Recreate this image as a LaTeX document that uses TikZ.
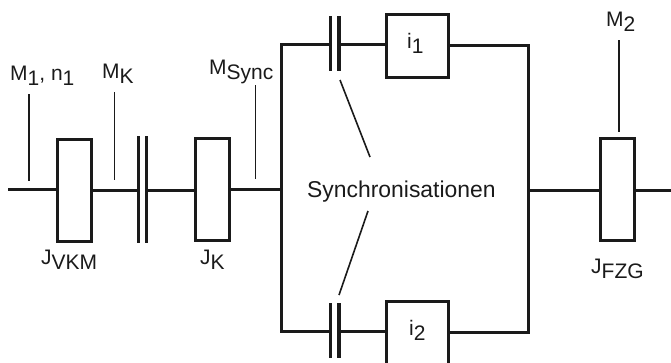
\documentclass[tikz,border=0pt]{standalone}
\usepackage{fontspec}
\setmainfont{Liberation Sans}
\definecolor{ink}{HTML}{1A1A1A}
\newcommand{\lo}[1]{\raisebox{-0.24em}{#1}}
\tikzset{
  x=1pt,y=-1pt,
  inertia/.style={draw=ink,line width=3pt,fill=white,inner sep=0pt,minimum width=34pt,minimum height=102pt},
  ratio/.style={draw=ink,line width=3pt,fill=white,inner sep=0pt,minimum width=62pt,minimum height=63pt},
  plate/.style={fill=ink,inner sep=0pt,minimum width=3.2pt},
  shaft/.style={draw=ink,line width=3pt},
  lead/.style={draw=ink,line width=1.6pt},
  lbl/.style={inner sep=0pt,text=ink,font=\fontsize{21}{24}\selectfont,anchor=base west},
}
\begin{document}
\begin{tikzpicture}
\useasboundingbox (0,0) rectangle (671,362);
\clip (0,0) rectangle (671,362);
\coordinate (start) at (8,189);
\coordinate (end) at (671,190);
\coordinate (lt) at (281,44.5);
\coordinate (lm) at (281,189);
\coordinate (lb) at (281,331.5);
\coordinate (rt) at (528,45);
\coordinate (rm) at (528,190);
\coordinate (rb) at (528,332);
\node[inertia] (jv) at (74,190) {};
\node[plate,minimum height=107pt] (c1) at (138.5,189.5) {};
\node[plate,minimum height=107pt] (c2) at (146.5,189.5) {};
\node[inertia] (jk) at (212.5,189) {};
\node[inertia] (jf) at (617,189.5) {};
\node[plate,minimum height=55pt] (s1a) at (330.5,43.5) {};
\node[plate,minimum height=55pt] (s1b) at (339,43.5) {};
\node[plate,minimum height=55pt] (s2a) at (330.5,330) {};
\node[plate,minimum height=55pt] (s2b) at (339,330) {};
\node[ratio] (i1) at (417,45.5) {};
\node[ratio,minimum height=70pt] (i2) at (417,336) {};
\draw[shaft] (start) -- (start -| jv.west);
\draw[shaft] (jv.east) -- (jv.east -| c1.west);
\draw[shaft] (c2.east |- 0,190) -- (jk.west |- 0,190);
\draw[shaft] (jk.east |- lm) -- (lm);
\draw[shaft,line cap=rect] (lt) -- (lb);
\draw[shaft] (lt) -- (lt -| s1a.west);
\draw[shaft] (s1b.east |- lt) -- (i1.west |- lt);
\draw[shaft] (lb) -- (lb -| s2a.west);
\draw[shaft] (s2b.east |- lb) -- (i2.west |- lb);
\draw[shaft] (i1.east |- rt) -- (rt);
\draw[shaft] (i2.east |- rb) -- (rb);
\draw[shaft,line cap=rect] (rt) -- (rb);
\draw[shaft] (rm) -- (rm -| jf.west);
\draw[shaft] (jf.east |- end) -- (end);
\node[lbl] (tm1) at (10,80) {M\lo{1}, n\lo{1}};
\node[lbl] (tmk) at (102,78) {M\lo{K}};
\node[lbl] (tms) at (209,74) {M\lo{Sync}};
\node[lbl] (tm2) at (606,26) {M\lo{2}};
\node[lbl] (tjv) at (41,264) {J\lo{VKM}};
\node[lbl] (tjk) at (200,264) {J\lo{K}};
\node[lbl] (tjf) at (591,273) {J\lo{FZG}};
\node[lbl] (ti1) at (407,48) {i\lo{1}};
\node[lbl] (ti2) at (409,335) {i\lo{2}};
\node[lbl,font=\fontsize{22.9}{26}\selectfont] (syn) at (307,197) {Synchronisationen};
\coordinate (a1) at (29,94); \coordinate (a1e) at (29,181);
\coordinate (a2) at (114.5,92); \coordinate (a2e) at (114.5,180);
\coordinate (a3) at (255.5,85); \coordinate (a3e) at (255.5,179);
\coordinate (a4) at (618.7,40); \coordinate (a4e) at (618.7,132);
\draw[lead] (a1) -- (a1e);
\draw[lead] (a2) -- (a2e);
\draw[lead] (a3) -- (a3e);
\draw[lead] (a4) -- (a4e);
\coordinate (s1) at (370,157); \coordinate (s1e) at (340,80);
\coordinate (s2) at (368,211); \coordinate (s2e) at (339,295);
\draw[lead] (s1) -- (s1e);
\draw[lead] (s2) -- (s2e);
\end{tikzpicture}
\end{document}
